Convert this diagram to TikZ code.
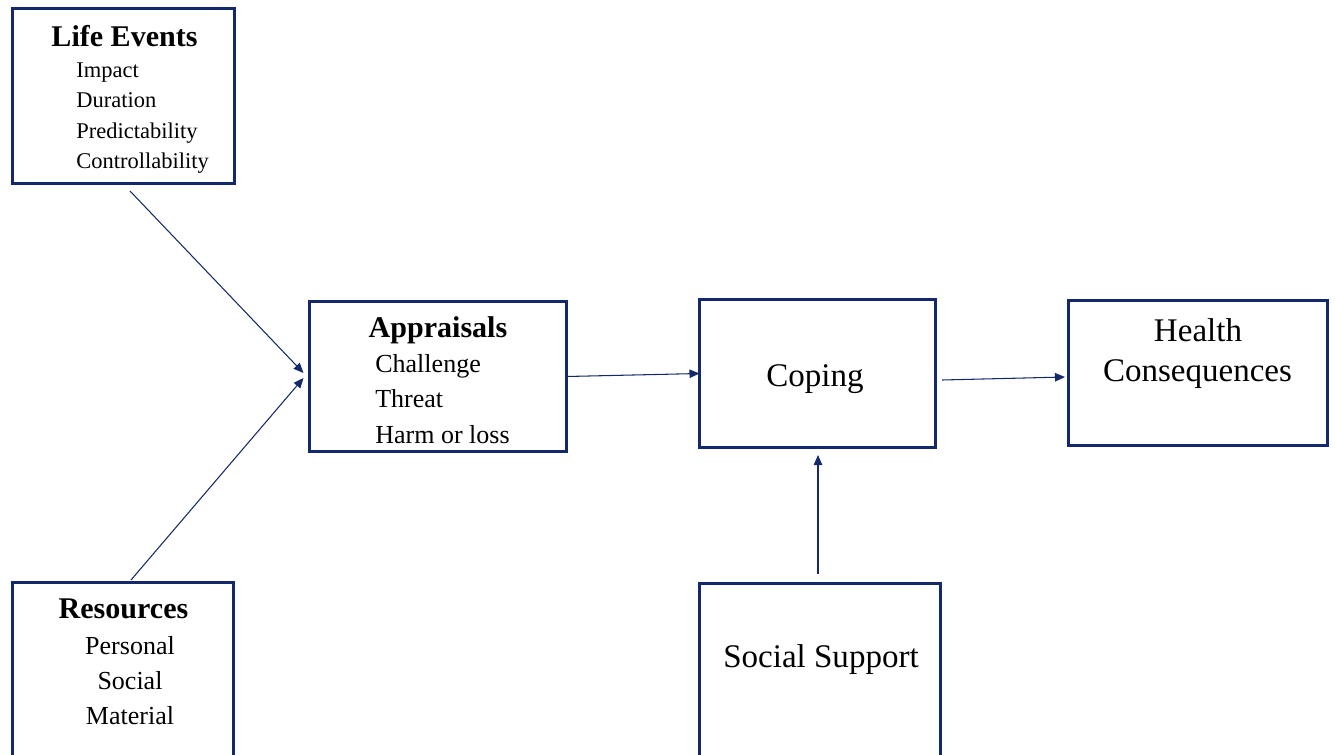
\documentclass[tikz,border=0pt]{standalone}
\usepackage{fontspec}
\setmainfont{Liberation Serif}
\usetikzlibrary{fit,arrows.meta}
\definecolor{navy}{HTML}{13296B}

\begin{document}
\begin{tikzpicture}[x=0.02cm, y=-0.02cm, every node/.style = {inner sep=0pt},
    box/.style = {draw=navy, line width=1.7pt, outer sep=0pt},
    conn/.style = {draw=navy, line width=0.6pt, -{Triangle[length=5.7pt, width=4.8pt]}},
    title/.style = {anchor=base, font=\fontsize{17.1}{20}\selectfont\bfseries},
    item/.style = {font=\fontsize{14.8}{18}\selectfont},
    small/.style = {font=\fontsize{12.8}{15}\selectfont},
    big/.style = {anchor=base, font=\fontsize{18.8}{22}\selectfont}]

  \path[use as bounding box, clip] (0,0) rectangle (1335,754);

  \node[box, fit={(12.5,8.5) (234.5,183.5)}] (life) {};
  \node[box, fit={(12.5,582.5) (233.5,800)}] (res) {};
  \node[box, fit={(309.5,301.5) (566.5,451.5)}] (appr) {};
  \node[box, fit={(699.5,299.5) (935.5,447.5)}] (coping) {};
  \node[box, fit={(1068.5,300.5) (1327.5,445.5)}] (health) {};
  \node[box, fit={(699.5,583.5) (940.5,800)}] (social) {};

  \node[title] (lifetitle) at (124.5,46.7) {Life Events};
  \foreach \txt [count=\i] in {Impact, Duration, Predictability, Controllability}
    \node[small, anchor=base west] (life\i) at (76, 47.5+30.2*\i) {\txt};

  \node[title] (restitle) at (123.5,618) {Resources};
  \foreach \txt [count=\i] in {Personal, Social, Material}
    \node[item, anchor=base] (res\i) at (130, 619+35*\i) {\txt};

  \node[title] (apprtitle) at (438,337) {Appraisals};
  \foreach \txt [count=\i] in {Challenge, Threat, Harm or loss}
    \node[item, anchor=base west] (appr\i) at (375, 336.5+35.5*\i) {\txt};

  \node[big] (copingtext) at (815,386.5) {Coping};
  \node[big] (healthtext) at (1198,341) {Health};
  \node[big] (healthtext2) at (1197.5,381) {Consequences};
  \node[big] (socialtext) at (821,667) {Social Support};

  \draw[conn] ([shift={(6.5,7.5)}]life.south) -- ([shift={(-6,-3.5)}]appr.west);
  \draw[conn] ([shift={(8,-2.5)}]res.north) -- ([shift={(-6,1.5)}]appr.west);
  \draw[conn] (appr.east) -- (coping.west);
  \draw[conn] ([shift={(6.5,6.5)}]coping.east) -- ([shift={(-3.5,4)}]health.west);
  \draw[conn] ([shift={(-2,-9.5)}]social.north) -- ([shift={(0.5,7.5)}]coping.south);

\end{tikzpicture}
\end{document}
